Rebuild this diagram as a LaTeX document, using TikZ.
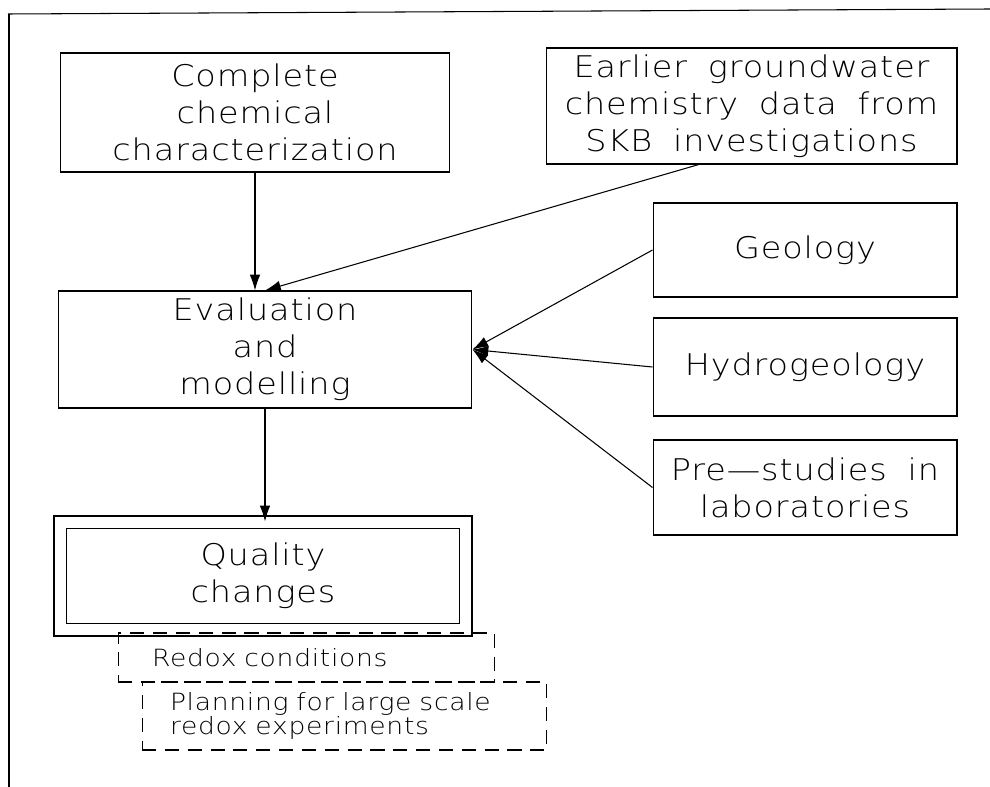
\documentclass[tikz,border=0pt]{standalone}
\usepackage{fontspec}
\IfFontExistsTF{DejaVu Sans ExtraLight}{\setmainfont{DejaVu Sans ExtraLight}[FakeStretch=1.12, LetterSpace=3, WordSpace=1.8]}{\setmainfont{DejaVu Sans}[FakeStretch=1.12, LetterSpace=3, WordSpace=1.8]}
\usetikzlibrary{arrows.meta}

\begin{document}
\begin{tikzpicture}[x=0.02cm, y=-0.02cm, line width=0.6pt]
	\useasboundingbox (0,0) rectangle (990,787);
	\begin{scope}
		\tikzstyle{box}=[draw, rectangle, align=center, inner sep=0pt, font=\fontsize{17}{21}\selectfont]
		\tikzstyle{note}=[draw, rectangle, dash pattern=on 8pt off 5pt, align=left, inner ysep=0pt, font=\fontsize{13.5}{13.5}\selectfont]
		\tikzstyle{flow}=[-{Latex[length=9pt,width=6pt]}]

		% sheet edges
		\draw (8,14) -- (990,9);
		\draw (9,14) -- (9,787);

		\node[box, minimum width=7.8cm, minimum height=2.38cm] (comp) at (255, 112.5) {Complete\\chemical\\characterization};
		\node[box, minimum width=8.22cm, minimum height=2.32cm] (earlier) at (751.5, 106) {Earlier groundwater\\chemistry data from\\SKB investigations};

		\node[box, minimum width=6.08cm, minimum height=1.88cm] (geol) at (805, 250) {Geology};
		\node[box, minimum width=6.08cm, minimum height=1.96cm] (hydro) at (805, 367) {Hydrogeology};
		\node[box, minimum width=6.08cm, minimum height=1.9cm] (pre) at (805, 487.5) {Pre---studies in\\laboratories};

		\node[box, minimum width=8.28cm, minimum height=2.34cm] (eval) at (265, 349.5) {Evaluation\\and\\modelling};

		\node[box, double, double distance=0.22cm, minimum width=8.12cm, minimum height=2.16cm] (qual) at (263, 576) {Quality\\changes};

		\node[note, inner xsep=0.68cm, text width=6.18cm, minimum height=0.98cm] (redox) at (306.5, 657.5) {Redox conditions};
		\node[note, inner xsep=0.56cm, text width=6.98cm, minimum height=1.36cm] (plan) at (344.5, 716) {Planning for large scale\\redox experiments};

		\draw [flow] (comp.south) to (comp.south |- eval.north);
		\draw [flow] (earlier.228.7) to (eval.north);
		\draw [flow] (geol.west) to (eval.east);
		\draw [flow] (hydro.west) to (eval.east);
		\draw [flow] (pre.west) to (eval.east);
		\draw [flow] (eval.south) to (eval.south |- qual.north);
	\end{scope}
\end{tikzpicture}
\end{document}
